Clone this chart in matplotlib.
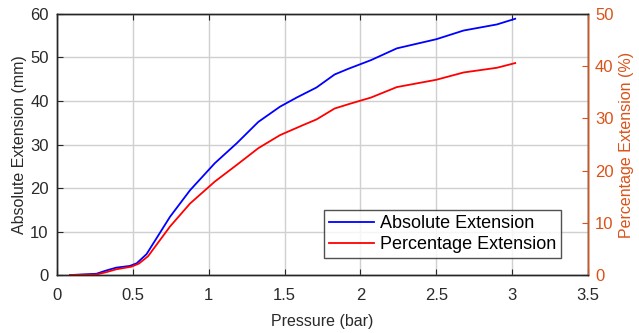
import matplotlib
matplotlib.use("Agg")
import matplotlib.pyplot as plt

abs_p = [0.086, 0.26, 0.32, 0.39, 0.48, 0.525, 0.59, 0.745, 0.877, 1.04, 1.185, 1.327, 1.47, 1.58, 1.71, 1.83, 1.92, 2.07, 2.24, 2.50, 2.68, 2.90, 3.02]
abs_ext = [0.0, 0.3, 1.0, 1.7, 2.1, 2.7, 4.8, 13.4, 19.5, 25.7, 30.3, 35.2, 38.7, 40.8, 43.1, 46.1, 47.4, 49.4, 52.1, 54.2, 56.2, 57.6, 58.9]

pct_p = [0.086, 0.26, 0.33, 0.39, 0.49, 0.54, 0.60, 0.745, 0.877, 1.04, 1.185, 1.327, 1.47, 1.62, 1.71, 1.83, 1.93, 2.07, 2.24, 2.50, 2.68, 2.90, 3.02]
pct_ext = [0.0, 0.1, 0.6, 1.1, 1.6, 2.2, 3.6, 9.3, 13.7, 17.9, 21.1, 24.3, 26.8, 28.7, 29.8, 31.9, 32.8, 34.0, 36.0, 37.4, 38.8, 39.7, 40.6]

xticks = [0, 0.5, 1, 1.5, 2, 2.5, 3, 3.5]
yticks_l = [0, 10, 20, 30, 40, 50, 60]
yticks_r = [0, 10, 20, 30, 40, 50]

orange = "#D95319"
dark = "#262626"
tickc = "#2a2a2a"
plt.rcParams['font.family'] = ['Liberation Sans', 'DejaVu Sans']

fig = plt.figure(figsize=(6.39, 3.33), dpi=100)
ax = fig.add_axes([0.0892, 0.174, 0.831, 0.784])
ax2 = ax.twinx()

l1, = ax.plot(abs_p, abs_ext, color="#0000FF", lw=1.3, label="Absolute Extension")
l2, = ax2.plot(pct_p, pct_ext, color="#FF0000", lw=1.3, label="Percentage Extension")

ax.set_xlim(0, 3.5)
ax.set_ylim(0, 60)
ax2.set_ylim(0, 50)
ax.set_xticks(xticks)
ax.set_xticklabels([f"{t:g}" for t in xticks])
ax.set_yticks(yticks_l)
ax2.set_yticks(yticks_r)
ax.grid(True, color="#d0d0d0", lw=1.0)
ax.set_axisbelow(True)

ax.tick_params(axis='both', direction='in', labelsize=12, colors=dark, labelcolor=tickc, length=4, top=True)
ax.tick_params(axis='x', pad=9)
ax.tick_params(axis='y', pad=6)
ax2.tick_params(axis='y', direction='in', labelsize=12, colors=orange, length=4, pad=5)
for s in ['left', 'bottom', 'top']:
    ax.spines[s].set_color(dark)
for s in ['left', 'bottom', 'top']:
    ax2.spines[s].set_color(dark)
ax2.spines['right'].set_color(orange)
for sp in list(ax.spines.values()) + list(ax2.spines.values()):
    sp.set_linewidth(1.0)

ax.set_xlabel("Pressure (bar)", fontsize=11.5, color=tickc, labelpad=8)
ax.set_ylabel("Absolute Extension (mm)", fontsize=11.5, color=tickc, labelpad=2)
ax2.set_ylabel("Percentage Extension (%)", fontsize=11.5, color=orange, labelpad=4)

leg = ax2.legend(handles=[l1, l2], loc='lower right', bbox_to_anchor=(0.95, 0.064),
                 fontsize=13, frameon=True, fancybox=False, edgecolor=dark,
                 borderpad=0.3, handlelength=2.5, labelspacing=0.22, handletextpad=0.3,
                 borderaxespad=0)
leg.get_frame().set_linewidth(1.0)

fig.savefig("out.png", dpi=100)
